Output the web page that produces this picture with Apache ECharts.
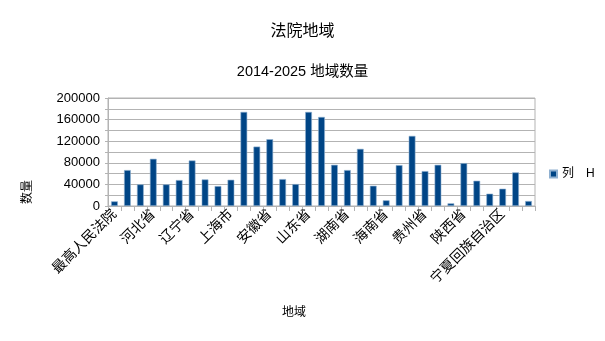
<!DOCTYPE html>
<html>
<head>
<meta charset="utf-8">
<script src="https://cdn.jsdelivr.net/npm/echarts@6/dist/echarts.min.js"></script>
<style>
  html, body { margin: 0; padding: 0; background: #fff; }
  #chart { width: 605px; height: 341px; }
</style>
</head>
<body>
<div id="chart"></div>
<script>
// Courts by region, 2014-2025
const regions = [
  '最高人民法院', '北京市', '天津市', '河北省', '山西省', '内蒙古自治区', '辽宁省', '吉林省',
  '黑龙江省', '上海市', '江苏省', '浙江省', '安徽省', '福建省', '江西省', '山东省',
  '河南省', '湖北省', '湖南省', '广东省', '广西壮族自治区', '海南省', '重庆市', '四川省',
  '贵州省', '云南省', '西藏自治区', '陕西省', '甘肃省', '青海省', '宁夏回族自治区',
  '新疆维吾尔自治区', '新疆生产建设兵团'
];
const counts = [
  8600, 66500, 40000, 87400, 40000, 48000, 84300, 49200,
  36900, 48600, 174200, 110000, 123700, 49800, 40600, 174200,
  164900, 76300, 66500, 105800, 37500, 10500, 75700, 129800,
  64600, 76300, 4900, 79400, 46800, 22800, 32000,
  62200, 9200
];
const yTicks = [0, 40000, 80000, 120000, 160000, 200000];
const seriesName = '列 H';

const FONT = "'Liberation Sans', 'Noto Sans CJK SC', sans-serif";
const GRID_GRAY = '#b3b3b3';

const chart = echarts.init(document.getElementById('chart'), null, { renderer: 'canvas' });

chart.setOption({
  animation: false,
  backgroundColor: '#ffffff',
  textStyle: { fontFamily: FONT, color: '#000' },
  title: [
    {
      text: '法院地域',
      left: 'center',
      top: 19,
      textStyle: { fontFamily: FONT, fontSize: 16, fontWeight: 'normal', color: '#000' }
    },
    {
      text: '2014-2025 地域数量',
      left: 'center',
      top: 60,
      textStyle: { fontFamily: FONT, fontSize: 14.5, fontWeight: 'normal', color: '#000' }
    }
  ],
  legend: {
    orient: 'vertical',
    left: 544,
    top: 163,
    itemWidth: 7,
    itemHeight: 7,
    itemGap: 4,
    icon: 'rect',
    formatter: function (name) { return name.replace(' ', '\u2003'); },
    textStyle: { fontFamily: FONT, fontSize: 12, color: '#000' },
    data: [seriesName]
  },
  grid: {
    left: 108,
    right: 70,
    top: 98,
    bottom: 135,
    show: true,
    borderColor: GRID_GRAY,
    borderWidth: 1,
    containLabel: false
  },
  xAxis: {
    type: 'category',
    data: regions,
    boundaryGap: true,
    axisLine: { show: true, lineStyle: { color: GRID_GRAY, width: 1 } },
    axisTick: { show: true, interval: 0, length: 5, lineStyle: { color: GRID_GRAY } },
    axisLabel: {
      interval: 2,
      rotate: 45,
      margin: 6,
      fontFamily: FONT,
      fontSize: 14,
      color: '#000'
    },
    splitLine: { show: false }
  },
  yAxis: {
    type: 'value',
    min: yTicks[0],
    max: yTicks[yTicks.length - 1],
    interval: 40000,
    axisLine: { show: true, lineStyle: { color: GRID_GRAY, width: 1 } },
    axisTick: { show: true, length: 3, lineStyle: { color: GRID_GRAY } },
    minorTick: { show: true, splitNumber: 2, length: 3, lineStyle: { color: GRID_GRAY } },
    axisLabel: {
      margin: 8,
      fontFamily: FONT,
      fontSize: 13,
      color: '#000',
      formatter: function (v) { return String(v); }
    },
    splitLine: { show: true, lineStyle: { color: GRID_GRAY, width: 1 } },
    minorSplitLine: { show: true, lineStyle: { color: GRID_GRAY, width: 1 } }
  },
  graphic: [
    {
      type: 'text',
      x: 28,
      y: 192,
      rotation: Math.PI / 2,
      style: {
        text: '数量',
        font: '12px ' + FONT,
        fill: '#000',
        align: 'center',
        verticalAlign: 'middle'
      }
    },
    {
      type: 'text',
      x: 294,
      y: 313,
      style: {
        text: '地域',
        font: '12px ' + FONT,
        fill: '#000',
        align: 'center',
        verticalAlign: 'middle'
      }
    }
  ],
  series: [
    {
      name: seriesName,
      type: 'bar',
      data: counts,
      barCategoryGap: '48%',
      itemStyle: {
        color: '#004586',
        borderColor: '#8fb0d0',
        borderWidth: 0.6
      }
    }
  ]
});
</script>
</body>
</html>
